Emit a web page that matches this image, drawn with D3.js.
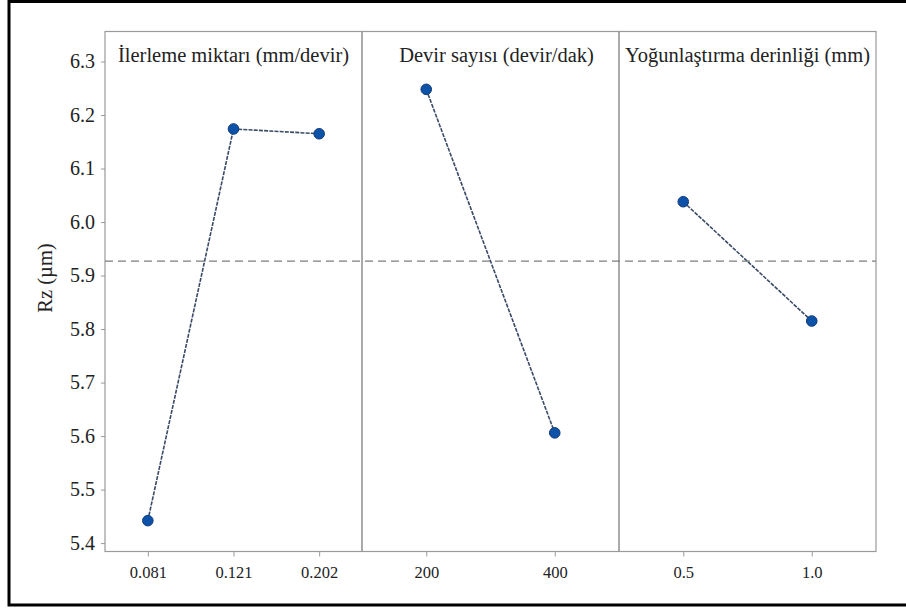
<!DOCTYPE html>
<html>
<head>
<meta charset="utf-8">
<script src="https://cdn.jsdelivr.net/npm/d3@7"></script>
<style>
  html, body { margin: 0; padding: 0; background: #fff; }
  svg { display: block; }
  text { font-family: "Liberation Serif", "DejaVu Serif", serif; fill: #222; }
</style>
</head>
<body>
<svg id="chart" width="906" height="608"></svg>
<script>
// Main effects of the three factors on Rz
const factorTitles = ["İlerleme miktarı (mm/devir)", "Devir sayısı (devir/dak)", "Yoğunlaştırma derinliği (mm)"];
const feedLevels = ["0.081", "0.121", "0.202"];
const feedMeans = [5.442, 6.174, 6.165];
const speedLevels = ["200", "400"];
const speedMeans = [6.248, 5.606];
const depthLevels = ["0.5", "1.0"];
const depthMeans = [6.038, 5.815];
const grandMean = 5.927;
const yTicks = [5.4, 5.5, 5.6, 5.7, 5.8, 5.9, 6.0, 6.1, 6.2, 6.3];
const yLabel = "Rz (µm)";

const factors = [
  { title: factorTitles[0], levels: feedLevels, means: feedMeans },
  { title: factorTitles[1], levels: speedLevels, means: speedMeans },
  { title: factorTitles[2], levels: depthLevels, means: depthMeans }
];

const serif = '"Liberation Serif", "DejaVu Serif", serif';
const svg = d3.select("#chart");
const plot = { left: 105, right: 876, top: 31.5, bottom: 551.5 };
const panelW = (plot.right - plot.left) / factors.length;
const frameColor = "#9a9a9a";

const y = d3.scaleLinear().domain([5.3843, 6.3561]).range([plot.bottom, plot.top]);

// outer frame
svg.append("path")
  .attr("d", `M906,1.5 H9 V605 H906`)
  .attr("fill", "none").attr("stroke", "#000").attr("stroke-width", 3);

// y axis
const yAxis = d3.axisLeft(y).tickValues(yTicks).tickFormat(d3.format(".1f")).tickSize(4).tickPadding(6);
const gy = svg.append("g").attr("transform", `translate(${plot.left},0)`).call(yAxis)
  .attr("font-family", serif);
gy.select(".domain").remove();
gy.selectAll(".tick line").attr("stroke", frameColor);
gy.selectAll(".tick text").attr("font-size", 20).attr("fill", "#222");

svg.append("text")
  .attr("transform", `translate(52,${278}) rotate(-90)`)
  .attr("text-anchor", "middle")
  .attr("font-size", 20.5)
  .text(yLabel);

const line = d3.line();

factors.forEach((f, i) => {
  const x0 = plot.left + i * panelW;
  const x = d3.scalePoint().domain(f.levels).range([x0, x0 + panelW]).padding(0.5);

  // panel frame
  svg.append("rect")
    .attr("x", x0).attr("y", plot.top)
    .attr("width", panelW).attr("height", plot.bottom - plot.top)
    .attr("fill", "none").attr("stroke", frameColor).attr("stroke-width", 1.2);

  // x axis
  const gx = svg.append("g").attr("transform", `translate(0,${plot.bottom})`)
    .call(d3.axisBottom(x).tickSize(5).tickPadding(10))
    .attr("font-family", serif);
  gx.select(".domain").remove();
  gx.selectAll(".tick line").attr("stroke", frameColor);
  gx.selectAll(".tick text").attr("font-size", 16.5).attr("fill", "#222");

  // panel title
  svg.append("text")
    .attr("x", x0 + panelW / 2 + (i === 1 ? 6 : 0))
    .attr("y", 62)
    .attr("text-anchor", "middle")
    .attr("font-size", 20.5)
    .text(f.title);

  // effect line
  const pts = f.levels.map((l, k) => [x(l), y(f.means[k])]);
  svg.append("path")
    .attr("d", line(pts))
    .attr("fill", "none").attr("stroke", "#3b4a66").attr("stroke-width", 1.6)
    .attr("stroke-dasharray", "4,1.2");

  svg.selectAll(null).data(pts).enter().append("circle")
    .attr("cx", d => d[0]).attr("cy", d => d[1]).attr("r", 5.3)
    .attr("fill", "#0b52a8").attr("stroke", "#123a78").attr("stroke-width", 1);
});

// grand mean reference line
svg.append("line")
  .attr("x1", plot.left).attr("x2", plot.right)
  .attr("y1", y(grandMean)).attr("y2", y(grandMean))
  .attr("stroke", "#7d7d7d").attr("stroke-width", 1.3)
  .attr("stroke-dasharray", "8,5");
</script>
</body>
</html>
